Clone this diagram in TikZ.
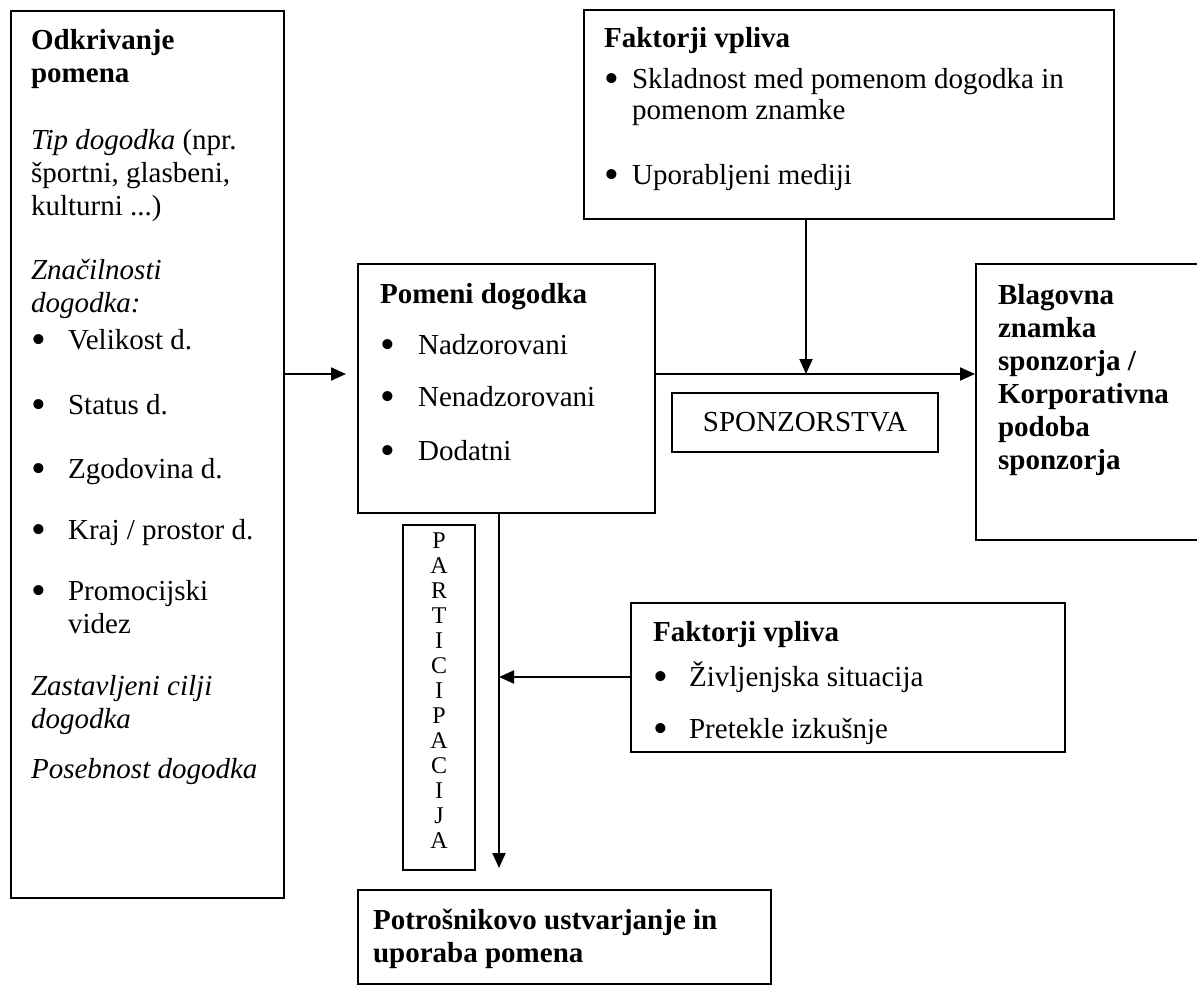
\documentclass[tikz,border=0pt]{standalone}
\usepackage{fontspec}
\setmainfont{Liberation Serif}
\usetikzlibrary{arrows.meta}

\newcommand{\bul}[1][37pt]{\makebox[#1][l]{\raisebox{-0.15em}{\scalebox{1.45}{\textbullet}}}}
\newcommand{\boxtext}[3]{\parbox[c][#2][t]{#1}{\raggedright #3}}

\begin{document}
\begin{tikzpicture}[x=1pt,y=-1pt,
                every path/.style={>={Triangle[length=15pt,width=13pt]}},
                every node/.style={font=\fontsize{29}{33}\selectfont},
                box/.style={draw,line width=2.2pt,anchor=north west,inner sep=0pt}]
  \useasboundingbox (0,0) rectangle (1197,985);
  \node[box,inner xsep=20pt,inner ysep=18pt] (odkr) at (10,10) {\boxtext{233pt}{851pt}{%
    \textbf{Odkrivanje}\\
    \textbf{pomena}\\[34pt]
    \textit{Tip dogodka} (npr.\\
    športni, glasbeni,\\
    kulturni ...)\\[31pt]
    \textit{Značilnosti}\\
    \textit{dogodka:}\\[4pt]
    \bul Velikost d.\\[32pt]
    \bul Status d.\\[31pt]
    \bul Zgodovina d.\\[28pt]
    \bul Kraj / prostor d.\\[28pt]
    \bul Promocijski\\
    \hspace*{37pt}videz\\[29pt]
    \textit{Zastavljeni cilji}\\
    \textit{dogodka}\\[17pt]
    \textit{Posebnost dogodka}}};
  \node[box,inner xsep=22pt,inner ysep=19pt] (pomeni) at (357,263) {\boxtext{253pt}{211pt}{%
    \textbf{Pomeni dogodka}\\[18pt]
    \bul[38pt]Nadzorovani\\[19pt]
    \bul[38pt]Nenadzorovani\\[21pt]
    \bul[38pt]Dodatni}};
  \node[box,inner xsep=20pt,inner ysep=17pt] (faktA) at (583,9) {\boxtext{490pt}{175pt}{%
    \textbf{Faktorji vpliva}\\[8pt]
    \bul[28pt]Skladnost med pomenom dogodka in\\[-2pt]
    \hspace*{28pt}pomenom znamke\\[32pt]
    \bul[28pt]Uporabljeni mediji}};
  \node[box,inner xsep=22pt,inner ysep=20pt] (blag) at (975,263) {\boxtext{182pt}{236pt}{%
    \bfseries Blagovna\\ znamka\\ sponzorja /\\ Korporativna\\ podoba\\ sponzorja}};
  \node[draw,line width=2.2pt,minimum width=266pt,minimum height=59pt,inner sep=0pt] (spon) at (805,422.5) {SPONZORSTVA};
  \node[box,inner xsep=22pt,inner ysep=18pt] (faktB) at (630,602) {\boxtext{390pt}{113pt}{%
    \textbf{Faktorji vpliva}\\[12pt]
    \bul[36pt]Življenjska situacija\\[19pt]
    \bul[36pt]Pretekle izkušnje}};
  \node[box,inner xsep=0pt,inner ysep=8pt,font=\fontsize{24}{25}\selectfont] (part) at (402,524) {\boxtext{72pt}{329pt}{%
    \centering P\\A\\R\\T\\I\\C\\I\\P\\A\\C\\I\\J\\A}};
  \node[box,inner xsep=15pt,inner ysep=19pt] (potr) at (357,889) {\boxtext{383pt}{56pt}{%
    \bfseries Potrošnikovo ustvarjanje in\\ uporaba pomena}};
  \coordinate (join) at (806,374);
  \coordinate (mid) at (499,677);
  \coordinate (tip) at (499,868);
  \draw[->,line width=2pt,shorten >=11pt] (odkr.east |- join) -- (pomeni.west |- join);
  \draw[->,line width=2pt] (faktA.south -| join) -- (join);
  \draw[->,line width=2pt] (pomeni.east |- join) -- (blag.west |- join);
  \draw[->,line width=2pt] (pomeni.south -| tip) -- (tip);
  \draw[->,line width=2pt] (faktB.west |- mid) -- (mid);
\end{tikzpicture}
\end{document}
